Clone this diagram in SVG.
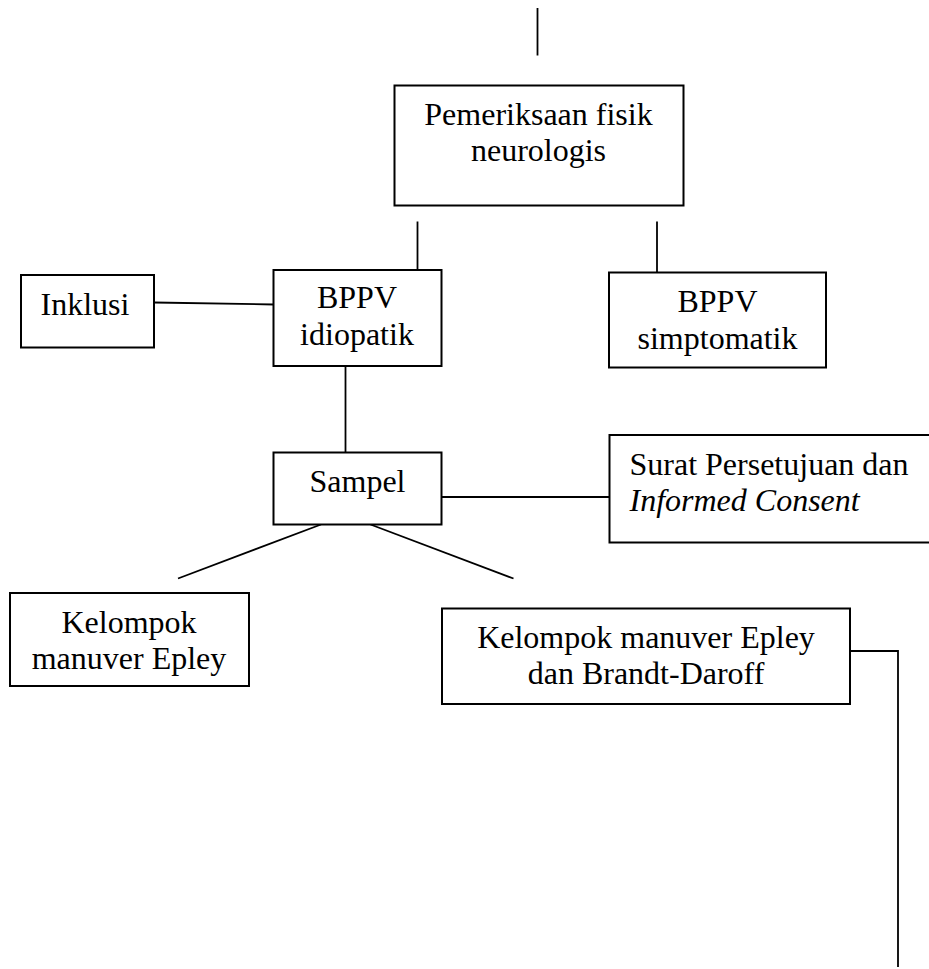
<svg xmlns="http://www.w3.org/2000/svg" width="929" height="969" viewBox="0 0 929 969">
<style>
.box{fill:#fff;stroke:#000;stroke-width:2}
.ln{fill:none;stroke:#000;stroke-width:1.8}
text{font-family:"Liberation Serif","Times New Roman",serif;font-size:32px;fill:#000}
.c{text-anchor:middle}
.i{font-style:italic}
</style>
<rect width="929" height="969" fill="#fff"/>
<g id="connectors">
<line class="ln" x1="537.5" y1="8" x2="537.5" y2="55.5"/>
<line class="ln" x1="417.5" y1="221.5" x2="417.5" y2="270"/>
<line class="ln" x1="657" y1="221.5" x2="657" y2="272"/>
<line class="ln" x1="154" y1="302.5" x2="273.5" y2="304.5"/>
<line class="ln" x1="345.5" y1="366" x2="345.5" y2="452.5"/>
<line class="ln" x1="441.5" y1="497" x2="609" y2="497"/>
<line class="ln" x1="321" y1="524.5" x2="178" y2="578.5"/>
<line class="ln" x1="370.5" y1="524.5" x2="513.5" y2="578.5"/>
<polyline class="ln" points="850,651 898,651 898,967"/>
</g>
<g id="pemeriksaan">
<rect class="box" x="394.5" y="85.5" width="289" height="120"/>
<text class="c" x="538.5" y="125">Pemeriksaan fisik</text>
<text class="c" x="538.5" y="161">neurologis</text>
</g>
<g id="inklusi">
<rect class="box" x="21" y="275" width="133" height="72.5"/>
<text class="c" x="85" y="315">Inklusi</text>
</g>
<g id="bppv-idiopatik">
<rect class="box" x="273.5" y="270" width="168" height="96"/>
<text class="c" x="357" y="308">BPPV</text>
<text class="c" x="357" y="345">idiopatik</text>
</g>
<g id="bppv-simptomatik">
<rect class="box" x="609" y="272.5" width="217" height="95"/>
<text class="c" x="717.5" y="311.5">BPPV</text>
<text class="c" x="717.5" y="349">simptomatik</text>
</g>
<g id="sampel">
<rect class="box" x="273.5" y="452.5" width="168" height="72"/>
<text class="c" x="357.5" y="491.5">Sampel</text>
</g>
<g id="surat">
<rect class="box" x="609.5" y="435" width="330" height="107.5"/>
<text x="629.5" y="475">Surat Persetujuan dan</text>
<text class="i" x="629.5" y="510.5">Informed Consent</text>
</g>
<g id="kelompok-epley">
<rect class="box" x="10" y="593" width="239" height="93"/>
<text class="c" x="129" y="633">Kelompok</text>
<text class="c" x="129" y="669">manuver Epley</text>
</g>
<g id="kelompok-epley-brandt">
<rect class="box" x="442" y="608.5" width="408" height="95.5"/>
<text class="c" x="646" y="647.5">Kelompok manuver Epley</text>
<text class="c" x="646" y="683.5">dan Brandt-Daroff</text>
</g>
</svg>
